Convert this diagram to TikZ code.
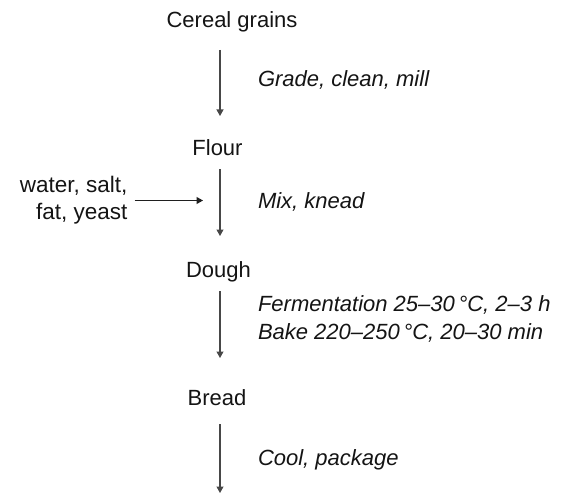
\documentclass[tikz,border=0pt]{standalone}
\usepackage{fontspec}
\setmainfont{Liberation Sans}
\usetikzlibrary{arrows.meta}
\begin{document}
\begin{tikzpicture}[x=1pt, y=-1pt,
  every node/.style={inner sep=0pt, outer sep=0pt, text=black!92,
    font=\fontsize{22}{27}\selectfont},
  stage/.style={anchor=base, text height=16pt, text depth=5pt},
  step note/.style={anchor=base west, font=\fontsize{22}{28}\selectfont\itshape},
  flow/.style={draw=black!72, line width=1.2pt,
    -{Triangle[length=6.5pt,width=7pt]}}]
  \useasboundingbox (0,0) rectangle (563,495);
  \coordinate (ax) at (220,0);

  % process stages
  \node[stage] (cereal) at (232,28) {Cereal grains};
  \node[stage] (flour)  at (217.5,155) {Flour};
  \node[stage] (dough)  at (218.5,277) {Dough};
  \node[stage] (bread)  at (217,405) {Bread};
  \coordinate (out) at (220,493);

  % operations beside each arrow
  \node[step note] (grade) at (258,87)  {Grade, clean, mill};
  \node[step note] (mix)   at (258,208) {Mix, knead};
  \node[step note, anchor=north west, align=left] (ferm) at (258,296)
    {Fermentation 25--30\,°C, 2--3 h\\Bake 220--250\,°C, 20--30 min};
  \node[step note] (cool)  at (258,465) {Cool, package};

  % ingredients added while mixing
  \node[anchor=east, align=right, font=\fontsize{22.5}{27}\selectfont] (inputs) at (127.5,200.5)
    {water, salt,\\fat, yeast};

  % flow arrows
  \draw[flow, shorten <=17pt, shorten >=23pt] (cereal.south -| ax) -- (flour.north -| ax);
  \draw[flow, shorten <=9pt,  shorten >=25pt] (flour.south -| ax) -- (dough.north -| ax);
  \draw[flow, shorten <=9pt,  shorten >=31pt] (dough.south -| ax) -- (bread.north -| ax);
  \draw[flow, shorten <=14pt] (bread.south -| ax) -- (out);
  \draw[flow, draw=black!88, shorten <=7pt, shorten >=17pt] (inputs.east) -- (inputs.east -| ax);
\end{tikzpicture}
\end{document}
